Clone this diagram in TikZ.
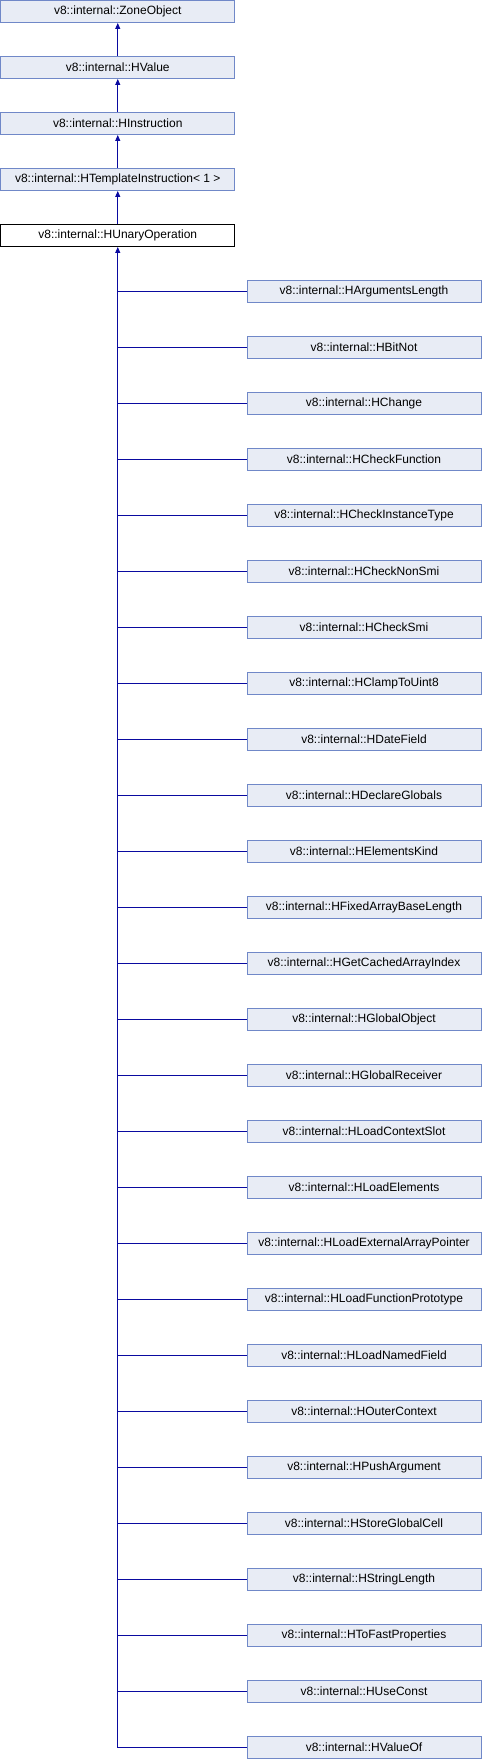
\documentclass[tikz,border=0pt]{standalone}
\usepackage{fontspec}
\setmainfont{Liberation Sans}
\usetikzlibrary{arrows.meta, positioning, calc}
\definecolor{boxfill}{HTML}{E8ECF5}
\definecolor{boxline}{HTML}{7088C8}
\definecolor{edgeblue}{HTML}{0A0AA0}

\begin{document}
\begin{tikzpicture}[x=1pt, y=-1pt, font=\fontsize{12}{14}\selectfont,
  cls/.style={draw=boxline, fill=boxfill, line width=1pt,
    minimum width=234pt, minimum height=22pt, inner sep=0pt},
  cur/.style={cls, draw=black, fill=white},
  edge/.style={draw=edgeblue, line width=1pt},
  up/.style={edge, -{Triangle[length=6pt, width=5pt]}}]
  \useasboundingbox (0,0) rectangle (482,1760);
  % base classes
  \node[cls] (zone) at (117.75,11.5) {v8::internal::ZoneObject};
  \node[cls] (value) at (117.75,67.5) {v8::internal::HValue};
  \node[cls] (instr) at (117.75,123.5) {v8::internal::HInstruction};
  \node[cls] (templ) at (117.75,179.5) {v8::internal::HTemplateInstruction< 1 >};
  \node[cur] (unary) at (117.75,235.5) {v8::internal::HUnaryOperation};
  \draw[up] (value.north) -- (zone.south);
  \draw[up] (instr.north) -- (value.south);
  \draw[up] (templ.north) -- (instr.south);
  \draw[up] (unary.north) -- (templ.south);
  % derived classes
  \foreach \name [count=\i from 0] in {HArgumentsLength, HBitNot, HChange,
      HCheckFunction, HCheckInstanceType, HCheckNonSmi, HCheckSmi,
      HClampToUint8, HDateField, HDeclareGlobals, HElementsKind,
      HFixedArrayBaseLength, HGetCachedArrayIndex, HGlobalObject,
      HGlobalReceiver, HLoadContextSlot, HLoadElements,
      HLoadExternalArrayPointer, HLoadFunctionPrototype, HLoadNamedField,
      HOuterContext, HPushArgument, HStoreGlobalCell, HStringLength,
      HToFastProperties, HUseConst, HValueOf} {
    \node[cls] (c\i) at (364,291.5+56*\i) {v8::internal::\name};
    \draw[edge] (c\i.west) -- (c\i.west -| unary.south);
  }
  \draw[edge, {Triangle[length=6pt, width=5pt]}-] (unary.south) -- (c26.west -| unary.south);
\end{tikzpicture}
\end{document}
